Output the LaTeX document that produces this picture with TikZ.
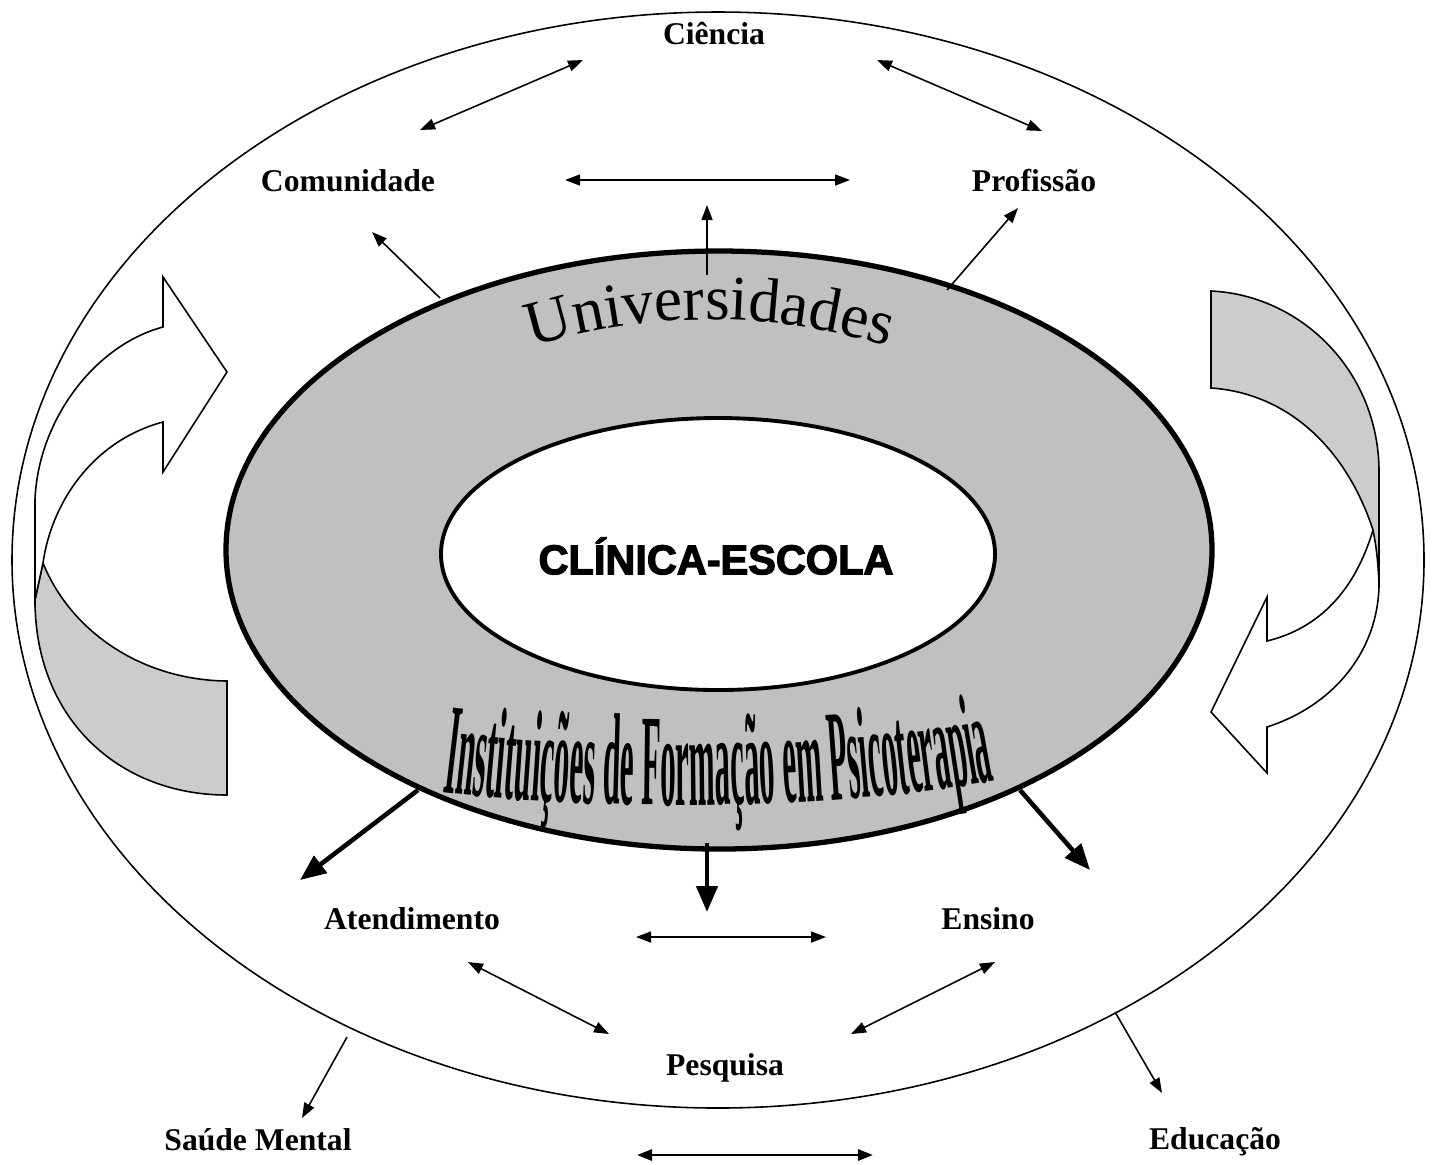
\documentclass[tikz,border=0pt]{standalone}
\usepackage{fontspec}
\setmainfont{Liberation Serif}
\newfontfamily\heavyfont[FakeBold=3]{Liberation Sans}
\newfontfamily\narrowfont[FakeStretch=0.24]{Liberation Serif}
\usepackage{xcolor}
\usetikzlibrary{arrows.meta,decorations.text}

\definecolor{univgray}{HTML}{C0C0C0}
\definecolor{bandgray}{HTML}{CCCCCC}

\begin{document}
\begin{tikzpicture}[x=0.1mm, y=0.1mm,
    lbl/.style={font=\fontsize{9}{11}\selectfont\bfseries},
    twoway/.style={{Triangle[length=1.5mm,width=1.1mm]}-{Triangle[length=1.5mm,width=1.1mm]}, line width=0.45pt},
    oneway/.style={-{Triangle[length=1.5mm,width=1.1mm]}, line width=0.45pt},
    thickway/.style={-{Triangle[length=2.6mm,width=2.1mm]}, line width=1.3pt},
    band/.style={draw, line width=0.45pt}]
    \useasboundingbox (0,0) rectangle (1437,-1164);

    % ellipses
    \draw[line width=0.45pt] (718,-560) ellipse [x radius=706, y radius=548];

    % curved arrows, left
    \draw[band, fill=bandgray] (227,-681) .. controls (140,-680) and (70,-630) .. (43,-563)
        -- (35,-600) .. controls (35,-720) and (120,-795) .. (227,-795) -- cycle;
    \draw[band, fill=white] (163,-327) -- (163,-277) -- (227,-372) -- (163,-472) -- (163,-422)
        .. controls (95,-440) and (52,-500) .. (43,-563)
        .. controls (40,-577) and (37,-590) .. (35,-600) -- (35,-500)
        .. controls (38,-420) and (95,-345) .. (163,-327) -- cycle;

    % curved arrows, right
    \draw[band, fill=white] (1267,-641) -- (1267,-597) -- (1211,-712) -- (1267,-773) -- (1267,-727)
        .. controls (1335,-705) and (1378,-650) .. (1379,-585) -- (1379,-500) -- (1373,-530)
        .. controls (1355,-590) and (1320,-628) .. (1267,-641) -- cycle;
    \draw[band, fill=bandgray] (1211,-291) .. controls (1300,-295) and (1378,-370) .. (1379,-470)
        -- (1379,-585) .. controls (1378,-560) and (1376,-545) .. (1373,-530)
        .. controls (1345,-445) and (1285,-393) .. (1211,-388) -- cycle;

    \draw[line width=1.5pt, fill=univgray] (719,-550) ellipse [x radius=493, y radius=299];
    \draw[line width=1.1pt, fill=white] (718,-554) ellipse [x radius=277, y radius=136];

    \path[decorate, decoration={text along path, text align=center,
        text={|\fontsize{18}{20}\selectfont|Universidades}}]
        (534,-346) arc [start angle=107, end angle=73, radius=603];
    \path[decorate, decoration={text along path, text align=center,
        text={|\narrowfont\bfseries\fontsize{37}{40}\selectfont|Instituições de Formação em Psicoterapia}}]
        (440,-792) .. controls (600,-812) and (840,-810) .. (997,-780);

    \node[font=\heavyfont\bfseries\fontsize{11.8}{14}\selectfont] (clinica) at (716,-556) {CLÍNICA-ESCOLA};

    % labels
    \node[lbl] (ciencia) at (714,-33) {Ciência};
    \node[lbl] (comunidade) at (348,-181) {Comunidade};
    \node[lbl] (profissao) at (1034,-181) {Profissão};
    \node[lbl] (atendimento) at (412,-919) {Atendimento};
    \node[lbl] (ensino) at (988,-919) {Ensino};
    \node[lbl] (pesquisa) at (725,-1068) {Pesquisa};
    \node[lbl] (saude) at (258,-1140) {Saúde Mental};
    \node[lbl] (educacao) at (1215,-1142) {Educação};

    % arrow ends
    \coordinate (cc1) at (583,-60);   \coordinate (cc2) at (420,-130);
    \coordinate (cp1) at (877,-60);   \coordinate (cp2) at (1042,-131);
    \coordinate (hp1) at (565,-180);  \coordinate (hp2) at (850,-180);
    \coordinate (up1) at (707,-275);  \coordinate (up2) at (707,-205);
    \coordinate (com1) at (440,-298); \coordinate (com2) at (372,-232);
    \coordinate (pro1) at (947,-290); \coordinate (pro2) at (1018,-208);
    \coordinate (at1) at (418,-790);  \coordinate (at2) at (300,-880);
    \coordinate (ps1) at (707,-843);  \coordinate (ps2) at (707,-912);
    \coordinate (en1) at (1020,-790); \coordinate (en2) at (1090,-870);
    \coordinate (ae1) at (636,-937);  \coordinate (ae2) at (826,-937);
    \coordinate (ap1) at (468,-962);  \coordinate (ap2) at (609,-1034);
    \coordinate (ep1) at (995,-962);  \coordinate (ep2) at (851,-1034);
    \coordinate (sm1) at (347,-1037); \coordinate (sm2) at (302,-1118);
    \coordinate (ed1) at (1115,-1012);\coordinate (ed2) at (1162,-1093);
    \coordinate (bh1) at (637,-1155); \coordinate (bh2) at (873,-1155);

    \draw[twoway] (cc2) -- (cc1);
    \draw[twoway] (cp1) -- (cp2);
    \draw[twoway] (hp1) -- (hp2);
    \draw[oneway] (up1) -- (up2);
    \draw[oneway] (com1) -- (com2);
    \draw[oneway] (pro1) -- (pro2);

    \draw[thickway] (at1) -- (at2);
    \draw[thickway] (ps1) -- (ps2);
    \draw[thickway] (en1) -- (en2);

    \draw[twoway] (ae1) -- (ae2);
    \draw[twoway] (ap1) -- (ap2);
    \draw[twoway] (ep1) -- (ep2);
    \draw[oneway] (sm1) -- (sm2);
    \draw[oneway] (ed1) -- (ed2);
    \draw[twoway, line width=0.8pt] (bh1) -- (bh2);
\end{tikzpicture}
\end{document}
